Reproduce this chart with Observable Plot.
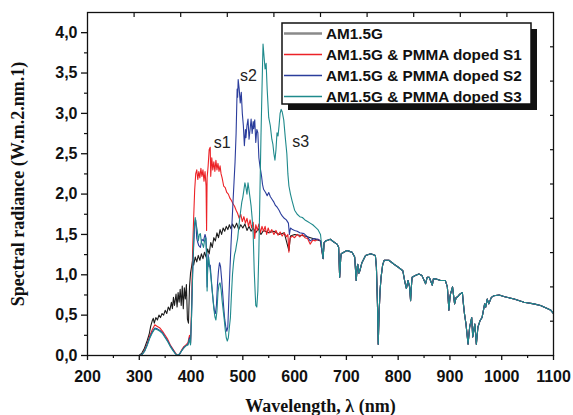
<!DOCTYPE html>
<html>
<head>
<meta charset="utf-8">
<script src="https://cdn.jsdelivr.net/npm/d3@7"></script>
<script src="https://cdn.jsdelivr.net/npm/@observablehq/plot@0.6"></script>
<style>
  html, body { margin: 0; padding: 0; background: #fff; }
  #wrap { width: 573px; height: 415px; }
</style>
</head>
<body>
<div id="wrap"></div>
<script>
// ---- data (wavelength nm, spectral radiance) ----
const am15g = [[280,0],[300,0],[305,0.03],[310,0.09],[315,0.18],[319,0.26],[322,0.36],[325,0.43],[327,0.46],[329,0.40],[332,0.47],[335,0.44],[338,0.50],[341,0.47],[344,0.52],[347,0.50],[350,0.56],[353,0.52],[356,0.60],[359,0.56],[362,0.66],[364,0.58],[366,0.72],[368,0.62],[371,0.76],[373,0.60],[375,0.78],[377,0.66],[379,0.82],[381,0.62],[383,0.86],[385,0.58],[387,0.84],[389,0.70],[391,0.88],[393,0.45],[395,0.40],[397,0.85],[399,1.02],[401,1.10],[403,1.18],[405,1.12],[408,1.22],[411,1.16],[414,1.24],[417,1.18],[420,1.26],[423,1.20],[426,1.28],[429,1.22],[432,1.32],[435,1.26],[438,1.40],[441,1.34],[444,1.46],[447,1.42],[450,1.52],[453,1.46],[456,1.56],[459,1.50],[462,1.58],[465,1.54],[468,1.60],[471,1.56],[474,1.62],[477,1.57],[480,1.63],[484,1.58],[488,1.64],[492,1.56],[496,1.62],[500,1.58],[504,1.63],[508,1.55],[512,1.60],[516,1.54],[520,1.58],[525,1.52],[530,1.57],[535,1.50],[540,1.55],[550,1.52],[560,1.54],[570,1.50],[580,1.52],[589,1.30],[592,1.48],[600,1.50],[620,1.48],[640,1.44],[650,1.42]];

const pmmaS1 = [[300,0],[305,0.01],[310,0.06],[315,0.14],[320,0.24],[325,0.32],[330,0.38],[335,0.36],[340,0.34],[345,0.30],[350,0.25],[355,0.20],[360,0.13],[365,0.08],[370,0.03],[374,0],[378,0.02],[382,0.07],[386,0.11],[390,0.13],[394,0.16],[397,0.25],[399,0.15],[401,0.6],[403,1.3],[405,1.7],[407,2.05],[409,2.25],[411,2.30],[413,2.18],[415,2.28],[417,2.20],[419,2.32],[421,2.22],[423,2.30],[425,2.16],[427,2.28],[429,2.10],[430,1.55],[431,2.20],[433,2.35],[435,2.55],[437,2.58],[438,2.22],[440,2.45],[442,2.30],[444,2.40],[446,2.28],[448,2.42],[450,2.30],[452,2.38],[454,2.28],[456,2.35],[458,2.25],[460,2.20],[463,2.10],[466,2.08],[469,2.02],[472,2.00],[475,1.95],[478,1.92],[481,1.88],[484,1.85],[487,1.80],[490,1.76],[493,1.70],[496,1.75],[499,1.66],[502,1.72],[505,1.64],[508,1.70],[511,1.60],[514,1.68],[517,1.58],[520,1.65],[523,1.45],[525,1.62],[528,1.55],[531,1.63],[534,1.52],[537,1.60],[540,1.54],[543,1.60],[546,1.50],[549,1.58],[552,1.52],[556,1.56],[560,1.50],[564,1.55],[568,1.49],[572,1.53],[576,1.48],[580,1.52],[584,1.47],[587,1.50],[589,1.28],[591,1.45],[595,1.48],[600,1.46],[605,1.50],[610,1.47],[615,1.50],[620,1.46],[625,1.45],[630,1.38],[635,1.43],[640,1.42],[645,1.44],[650,1.42]];

const pmmaS2 = [[300,0],[305,0.01],[310,0.05],[315,0.13],[320,0.22],[325,0.29],[330,0.34],[335,0.33],[340,0.31],[345,0.28],[350,0.23],[355,0.18],[360,0.12],[365,0.07],[370,0.02],[374,0],[378,0.02],[382,0.06],[386,0.10],[390,0.12],[394,0.14],[397,0.22],[399,0.14],[401,0.5],[403,1.0],[405,1.35],[407,1.62],[409,1.68],[411,1.45],[413,1.40],[415,1.36],[418,1.34],[421,1.44],[424,1.42],[427,1.50],[429,1.45],[431,0.85],[433,1.25],[435,1.10],[437,1.12],[439,0.95],[441,0.80],[443,0.66],[445,0.56],[447,0.52],[449,0.62],[451,0.88],[453,1.05],[455,1.15],[457,1.10],[459,0.95],[461,0.78],[463,0.60],[465,0.45],[467,0.36],[469,0.30],[471,0.35],[473,0.70],[475,1.05],[477,1.35],[479,1.63],[481,1.90],[483,2.15],[485,2.40],[487,2.75],[489,3.30],[490,3.20],[491,3.42],[493,3.30],[495,3.13],[497,3.26],[499,3.00],[501,2.85],[503,2.60],[505,2.80],[506,2.70],[508,2.85],[510,2.93],[512,2.68],[514,2.80],[516,2.93],[518,2.75],[520,2.90],[521,2.81],[523,2.92],[525,2.64],[527,2.80],[529,2.76],[531,2.45],[533,2.35],[536,2.23],[538,2.12],[540,2.06],[544,2.02],[547,1.98],[550,2.02],[553,1.97],[556,1.94],[560,1.90],[563,1.86],[566,1.84],[570,1.80],[573,1.76],[576,1.73],[580,1.70],[584,1.68],[588,1.64],[590,1.50],[592,1.58],[596,1.56],[600,1.55],[605,1.54],[610,1.52],[618,1.51],[625,1.47],[630,1.42],[637,1.45],[645,1.44],[650,1.42]];

const pmmaS3 = [[300,0],[305,0.01],[310,0.05],[315,0.12],[320,0.21],[325,0.28],[330,0.33],[335,0.32],[340,0.30],[345,0.27],[350,0.22],[355,0.17],[360,0.11],[365,0.06],[370,0.02],[374,0],[378,0.02],[382,0.06],[386,0.09],[390,0.12],[394,0.13],[397,0.20],[399,0.13],[401,0.5],[403,1.0],[405,1.40],[407,1.65],[408,1.71],[410,1.62],[412,1.55],[414,1.42],[416,1.50],[418,1.51],[420,1.40],[422,1.38],[424,1.34],[426,1.42],[428,1.46],[430,1.30],[431,0.80],[432,1.10],[434,1.22],[436,1.10],[438,1.00],[440,0.85],[442,0.72],[444,0.58],[446,0.48],[448,0.44],[450,0.55],[452,0.78],[454,0.88],[456,0.90],[458,0.82],[460,0.68],[462,0.56],[464,0.45],[466,0.32],[468,0.22],[470,0.18],[472,0.22],[474,0.35],[476,0.47],[478,0.75],[480,1.00],[482,1.15],[484,1.25],[486,1.30],[488,1.38],[490,1.45],[492,1.58],[494,1.70],[496,1.80],[498,1.90],[500,1.96],[502,2.05],[504,2.14],[506,2.08],[508,2.00],[510,2.14],[512,2.05],[514,1.95],[516,1.85],[518,1.70],[520,1.50],[522,1.05],[524,0.75],[525,0.62],[527,0.60],[529,0.80],[531,1.30],[533,2.00],[535,2.70],[537,3.30],[539,3.86],[541,3.70],[543,3.55],[545,3.62],[547,3.30],[550,2.95],[553,2.85],[556,2.68],[558,2.62],[560,2.50],[562,2.42],[564,2.55],[566,2.76],[568,2.72],[570,2.85],[572,3.00],[574,3.05],[576,3.02],[579,2.92],[582,2.70],[585,2.50],[587,2.25],[589,2.10],[592,2.00],[595,1.92],[600,1.80],[605,1.75],[610,1.72],[615,1.71],[620,1.68],[625,1.66],[630,1.64],[635,1.62],[640,1.59],[645,1.56],[650,1.50]];

// common long-wavelength part (all four curves coincide)
const tail = [[655,1.20],[657,1.40],[660,1.42],[665,1.43],[669,1.44],[675,1.41],[682,1.38],[685,1.34],[687,0.97],[689,1.20],[690,1.26],[695,1.28],[701,1.30],[706,1.29],[711,1.28],[716,1.22],[719,0.93],[721,1.10],[722,1.13],[724,1.02],[726,1.05],[730,1.15],[737,1.24],[747,1.26],[756,1.24],[758,1.09],[760,0.64],[761.5,0.14],[763,0.50],[765,0.80],[767,0.97],[770,1.12],[773,1.18],[782,1.18],[792,1.13],[801,1.09],[809,1.05],[813,0.91],[816,0.83],[819,0.93],[822,0.85],[824,0.68],[826,0.90],[827,0.97],[833,0.99],[840,1.01],[846,0.99],[853,0.89],[856,0.97],[860,0.97],[866,0.87],[868,0.95],[872,0.95],[882,0.93],[891,0.93],[895,0.85],[898,0.56],[900,0.72],[901,0.76],[905,0.85],[909,0.64],[912,0.72],[914,0.72],[919,0.76],[924,0.78],[926,0.64],[928,0.52],[931,0.39],[935,0.14],[938,0.35],[942,0.47],[944,0.23],[948,0.39],[951,0.14],[954,0.35],[958,0.43],[962,0.47],[967,0.64],[969,0.60],[972,0.70],[975,0.64],[980,0.72],[985,0.74],[995,0.75],[1004,0.73],[1024,0.70],[1043,0.66],[1062,0.64],[1075,0.62],[1089,0.58],[1095,0.56],[1100,0.52]];

const seriesNames = ["AM1.5G", "AM1.5G & PMMA doped S1", "AM1.5G & PMMA doped S2", "AM1.5G & PMMA doped S3"];
const seriesColors = ["#1c1c1c", "#ec2227", "#2b3d9c", "#1f8a8c"];
const legendColors = ["#8a8a8a", "#ec2227", "#2b3d9c", "#1f8a8c"];

const xTicks = [200, 300, 400, 500, 600, 700, 800, 900, 1000, 1100];
const xMinorTicks = [250, 350, 450, 550, 650, 750, 850, 950, 1050];
const yTicks = [0, 0.5, 1.0, 1.5, 2.0, 2.5, 3.0, 3.5, 4.0];
const yMinorTicks = [0.25, 0.75, 1.25, 1.75, 2.25, 2.75, 3.25, 3.75];
const xTopTicks = [290, 380, 470, 560, 650, 740, 830, 920, 1010];
const yRightTicks = [0.425, 0.85, 1.275, 1.7, 2.125, 2.55, 2.975, 3.4, 3.825];

const annLabels = ["s1", "s2", "s3"];
const annX = [460, 511, 612];
const annY = [2.63, 3.47, 2.65];

const xLabel = "Wavelength, \u03bb (nm)";
const yLabel = "Spectral radiance (W.m.2.nm.1)";

// ---- build ----
const rows = [];
[am15g, pmmaS1, pmmaS2, pmmaS3].forEach((arr, i) => {
  for (const [w, v] of arr.concat(tail)) rows.push({w, v, s: seriesNames[i]});
});
const ann = annLabels.map((t, i) => ({t, x: annX[i], y: annY[i]}));

const fmt = d => d.toFixed(1).replace(".", ",");
const sans = "'Liberation Sans', Arial, sans-serif";
const serif = "'Liberation Serif', 'Times New Roman', serif";

const chart = Plot.plot({
  width: 573, height: 415,
  marginLeft: 87, marginRight: 20, marginTop: 12, marginBottom: 60,
  x: {domain: [200, 1100]},
  y: {domain: [0, 4.25]},
  color: {domain: seriesNames, range: seriesColors},
  style: {fontFamily: sans, fontSize: "16px", fontWeight: "bold", color: "#111", background: "#fff", overflow: "visible"},
  marks: [
    Plot.line(rows, {x: "w", y: "v", z: "s", stroke: "s", strokeWidth: 1.1, curve: "linear"}),
    Plot.text(ann, {x: "x", y: "y", text: "t", fontFamily: sans, fontWeight: "normal", fontSize: 16, fill: "#222"}),
    Plot.frame({stroke: "#111", strokeWidth: 1.3}),
    Plot.axisX(xTicks, {tickSize: 5, tickPadding: 10, tickFormat: d => String(d), label: null, fontSize: 16, fontWeight: "bold", strokeWidth: 1.3}),
    Plot.axisX(xMinorTicks, {tickSize: 3, fill: "none", label: null, strokeWidth: 1.2}),
    Plot.axisX(xTopTicks, {anchor: "top", tickSize: -4, fill: "none", label: null, strokeWidth: 1.2}),
    Plot.axisY(yTicks, {tickSize: 6, tickPadding: 4, tickFormat: fmt, label: null, fontSize: 16, fontWeight: "bold", strokeWidth: 1.3}),
    Plot.axisY(yMinorTicks, {tickSize: 3, fill: "none", label: null, strokeWidth: 1.2}),
    Plot.axisY(yRightTicks, {anchor: "right", tickSize: -4, fill: "none", label: null, strokeWidth: 1.2}),
    Plot.text([xLabel], {frameAnchor: "bottom", dy: 51, textAnchor: "middle", lineAnchor: "middle", fontFamily: serif, fontWeight: "bold", fontSize: 18, fill: "#111"}),
    Plot.text([yLabel], {frameAnchor: "left", dx: -69, rotate: -90, textAnchor: "middle", lineAnchor: "middle", fontFamily: serif, fontWeight: "bold", fontSize: 18, fill: "#111"})
  ]
});

document.getElementById("wrap").appendChild(chart);

// ---- legend (drawn into the same SVG) ----
const lg = d3.select(chart).append("g")
  .attr("font-family", sans).attr("font-weight", "bold").attr("font-size", 15.3).attr("text-anchor", "start");
const bx = 282, by = 23, bw = 249, bh = 81;
lg.append("rect").attr("x", bx + 6).attr("y", by + 6).attr("width", bw).attr("height", bh).attr("fill", "#111");
lg.append("rect").attr("x", bx).attr("y", by).attr("width", bw).attr("height", bh).attr("fill", "#fff").attr("stroke", "#111").attr("stroke-width", 1.5);
seriesNames.forEach((name, i) => {
  const cy = by + 10.5 + i * 21;
  lg.append("line").attr("x1", bx + 2).attr("x2", bx + 40).attr("y1", cy).attr("y2", cy)
    .attr("stroke", legendColors[i]).attr("stroke-width", i === 0 ? 2.5 : 1.5);
  lg.append("text").attr("x", bx + 44).attr("y", cy).attr("dy", "0.36em")
    .attr("text-anchor", "start").attr("fill", "#111").text(name);
});
</script>
</body>
</html>
